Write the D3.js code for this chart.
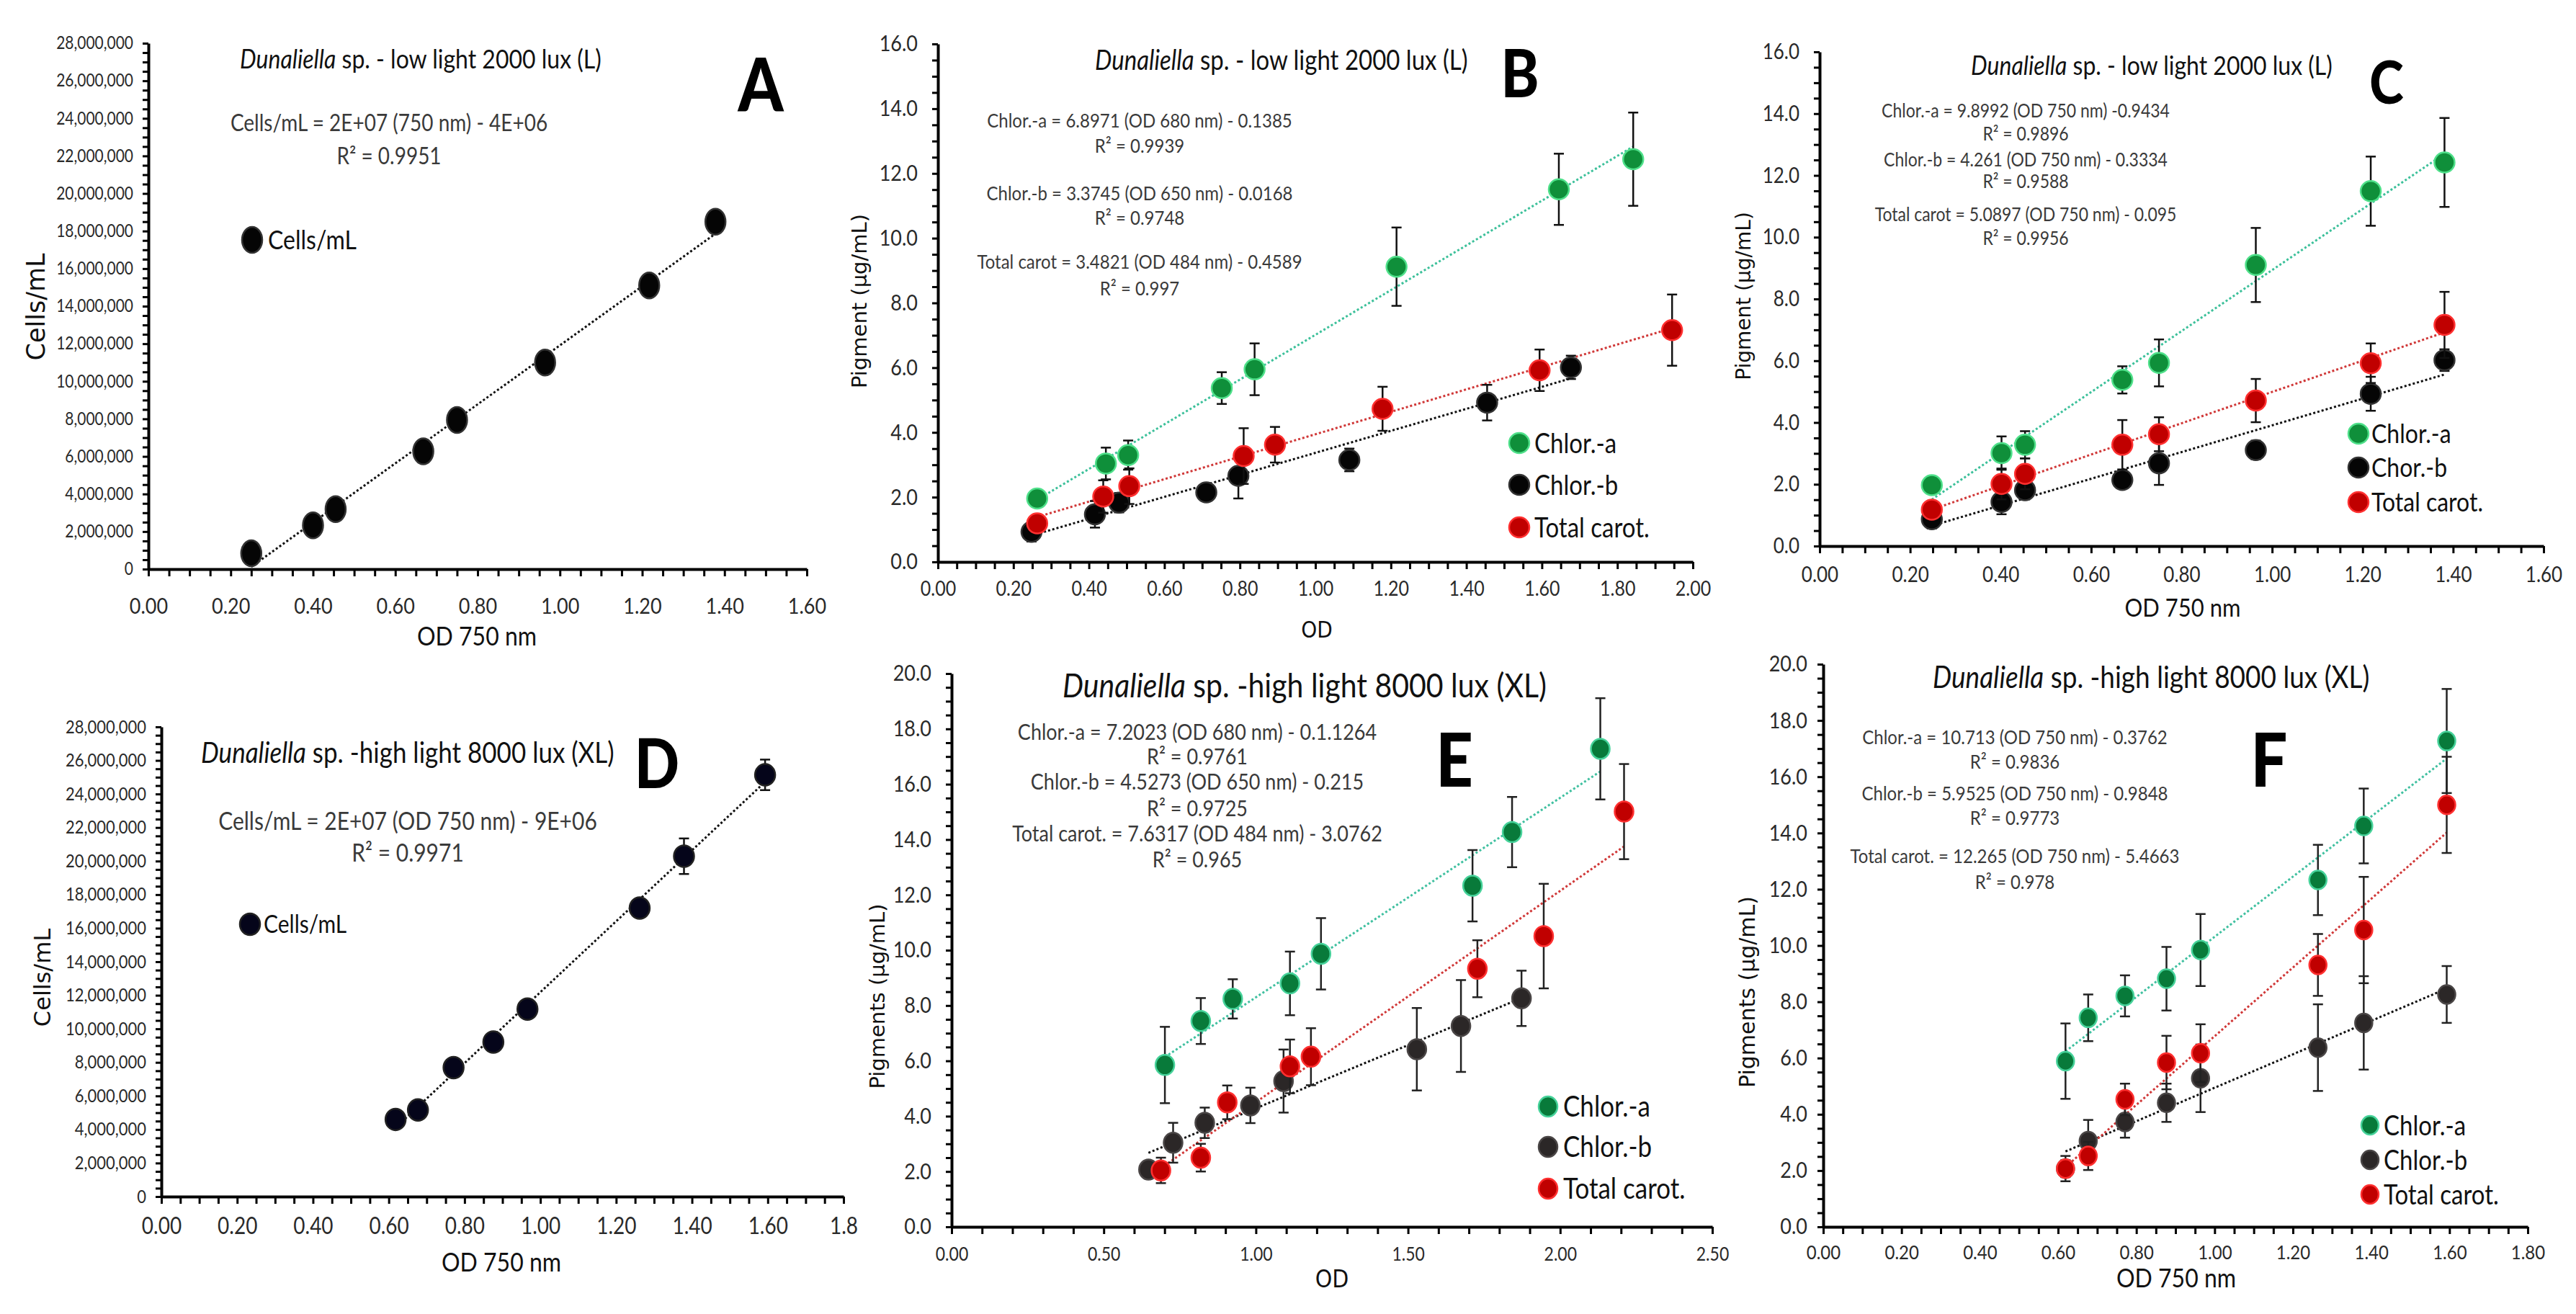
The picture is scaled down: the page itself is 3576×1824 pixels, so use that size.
<!DOCTYPE html>
<html>
<head>
<meta charset="utf-8">
<script src="https://cdn.jsdelivr.net/npm/d3@7"></script>
<style>
  body { margin: 0; background: #fff; }
</style>
</head>
<body>
<svg id="fig" width="3576" height="1824"></svg>
<script>
'use strict';

// ---------- data ----------

// A: cell counts, low light
var aOD = [0.25, 0.40, 0.455, 0.668, 0.75, 0.964, 1.217, 1.378];
var aCells = [840000, 2330000, 3190000, 6270000, 7940000, 11000000, 15100000, 18500000];

// B: pigments vs OD at their own wavelength, low light
var bChlaX = [0.263, 0.445, 0.504, 0.752, 0.839, 1.215, 1.645, 1.842];
var bChla = [1.96, 3.04, 3.30, 5.37, 5.95, 9.12, 11.51, 12.44];
var bChlaErr = [0.1, 0.49, 0.45, 0.49, 0.8, 1.21, 1.1, 1.44];
var bChlbX = [0.248, 0.416, 0.48, 0.711, 0.796, 1.09, 1.455, 1.677];
var bChlb = [0.93, 1.47, 1.83, 2.15, 2.66, 3.15, 4.92, 6.01];
var bChlbErr = [0.3, 0.41, 0.3, 0.15, 0.7, 0.35, 0.55, 0.36];
var bCarX = [0.263, 0.438, 0.507, 0.81, 0.893, 1.178, 1.594, 1.945];
var bCar = [1.19, 2.02, 2.34, 3.27, 3.62, 4.73, 5.92, 7.16];
var bCarErr = [0.15, 0.5, 0.55, 0.86, 0.55, 0.68, 0.64, 1.1];

// C: pigments vs OD 750, low light
var cOD = [0.248, 0.402, 0.454, 0.669, 0.75, 0.964, 1.218, 1.381];
var cChla = [1.97, 3.01, 3.28, 5.38, 5.93, 9.10, 11.49, 12.42];
var cChlaErr = [0.1, 0.54, 0.44, 0.44, 0.76, 1.2, 1.12, 1.44];
var cChlb = [0.87, 1.43, 1.81, 2.14, 2.68, 3.11, 4.93, 6.02];
var cChlbErr = [0.3, 0.4, 0.3, 0.15, 0.7, 0.3, 0.55, 0.35];
var cCar = [1.18, 2.01, 2.34, 3.28, 3.62, 4.71, 5.92, 7.16];
var cCarErr = [0.15, 0.5, 0.5, 0.8, 0.55, 0.7, 0.64, 1.07];

// D: cell counts, high light
var dOD = [0.618, 0.677, 0.771, 0.876, 0.966, 1.262, 1.379, 1.593];
var dCells = [4600000, 5160000, 7690000, 9210000, 11180000, 17200000, 20290000, 25140000];
var dCellsErr = [200000, 250000, 250000, 250000, 300000, 300000, 1060000, 910000];

// E: pigments vs OD at their own wavelength, high light
var eChlaX = [0.701, 0.819, 0.924, 1.112, 1.214, 1.712, 1.842, 2.132];
var eChla = [5.85, 7.44, 8.24, 8.80, 9.87, 12.33, 14.27, 17.28];
var eChlaErr = [1.38, 0.83, 0.71, 1.15, 1.29, 1.29, 1.27, 1.83];
var eChlbX = [0.647, 0.728, 0.832, 0.982, 1.091, 1.529, 1.674, 1.873];
var eChlb = [2.07, 3.04, 3.76, 4.39, 5.27, 6.42, 7.26, 8.26];
var eChlbErr = [0.3, 0.72, 0.55, 0.64, 1.14, 1.49, 1.66, 1.0];
var eCarX = [0.688, 0.819, 0.906, 1.112, 1.181, 1.728, 1.946, 2.21];
var eCar = [2.04, 2.50, 4.50, 5.80, 6.15, 9.33, 10.51, 15.01];
var eCarErr = [0.46, 0.5, 0.61, 0.97, 1.03, 1.03, 1.89, 1.72];

// F: pigments vs OD 750, high light
var fOD = [0.619, 0.677, 0.771, 0.877, 0.964, 1.264, 1.381, 1.593];
var fChla = [5.89, 7.43, 8.21, 8.82, 9.84, 12.33, 14.25, 17.27];
var fChlaErr = [1.34, 0.83, 0.73, 1.13, 1.28, 1.25, 1.33, 1.85];
var fChlb = [2.07, 3.05, 3.73, 4.41, 5.28, 6.37, 7.25, 8.26];
var fChlbErr = [0.3, 0.75, 0.56, 0.68, 1.2, 1.54, 1.66, 1.01];
var fCar = [2.07, 2.52, 4.53, 5.84, 6.17, 9.31, 10.55, 15.0];
var fCarErr = [0.45, 0.5, 0.56, 0.95, 1.03, 1.1, 1.89, 1.71];

// tick values and labels
var od16Ticks = [0, 0.2, 0.4, 0.6, 0.8, 1.0, 1.2, 1.4, 1.6];
var od16Labels = ['0.00', '0.20', '0.40', '0.60', '0.80', '1.00', '1.20', '1.40', '1.60'];
var od18Ticks = [0, 0.2, 0.4, 0.6, 0.8, 1.0, 1.2, 1.4, 1.6, 1.8];
var od18LabelsD = ['0.00', '0.20', '0.40', '0.60', '0.80', '1.00', '1.20', '1.40', '1.60', '1.8'];
var od18LabelsF = ['0.00', '0.20', '0.40', '0.60', '0.80', '1.00', '1.20', '1.40', '1.60', '1.80'];
var od20Ticks = [0, 0.2, 0.4, 0.6, 0.8, 1.0, 1.2, 1.4, 1.6, 1.8, 2.0];
var od20Labels = ['0.00', '0.20', '0.40', '0.60', '0.80', '1.00', '1.20', '1.40', '1.60', '1.80', '2.00'];
var od25Ticks = [0, 0.5, 1.0, 1.5, 2.0, 2.5];
var od25Labels = ['0.00', '0.50', '1.00', '1.50', '2.00', '2.50'];
var cellTicks = [0, 2e6, 4e6, 6e6, 8e6, 10e6, 12e6, 14e6, 16e6, 18e6, 20e6, 22e6, 24e6, 26e6, 28e6];
var cellLabels = ['0', '2,000,000', '4,000,000', '6,000,000', '8,000,000', '10,000,000', '12,000,000',
  '14,000,000', '16,000,000', '18,000,000', '20,000,000', '22,000,000', '24,000,000', '26,000,000', '28,000,000'];
var pig16Ticks = [0, 2, 4, 6, 8, 10, 12, 14, 16];
var pig16Labels = ['0.0', '2.0', '4.0', '6.0', '8.0', '10.0', '12.0', '14.0', '16.0'];
var pig20Ticks = [0, 2, 4, 6, 8, 10, 12, 14, 16, 18, 20];
var pig20Labels = ['0.0', '2.0', '4.0', '6.0', '8.0', '10.0', '12.0', '14.0', '16.0', '18.0', '20.0'];

// ---------- drawing ----------

var LATO = 'Lato, "Open Sans", sans-serif';
var DEJAVU = '"DejaVu Sans", Verdana, sans-serif';
var SY = 1.15; // the source figure is stretched a little vertically

var GREEN = { fill: '#0f8f3a', edge: '#4fe08a', line: '#3cc09a' };
var GREEN2 = { fill: '#087a3a', edge: '#46d29a', line: '#40c0a0' };
var RED = { fill: '#c00000', edge: '#ff3030', line: '#d03838' };
var BLACK = { fill: '#050505', edge: '#333', line: '#111' };
var BLACK2 = { fill: '#2b2727', edge: '#4a4646', line: '#111' };

var svg = d3.select('#fig');

function linFit(xs, ys) {
	var mx = d3.mean(xs), my = d3.mean(ys), sxy = 0, sxx = 0;
	xs.forEach(function(v, i) {
		sxy += (v - mx) * (ys[i] - my);
		sxx += (v - mx) * (v - mx);
	});
	var m = sxy / sxx;
	return { m: m, b: my - m * mx };
}

function allTicks(max, step) {
	return d3.range(Math.round(max / step) + 1).map(function(i) { return i * step; });
}

function labelFor(ticks, labels, tol) {
	return function(v) {
		for (var i = 0; i < ticks.length; i++) {
			if (Math.abs(ticks[i] - v) < tol) return labels[i];
		}
		return '';
	};
}

function addText(g, str, o) {
	var t = g.append('text')
		.attr('font-family', o.family || LATO)
		.attr('font-size', o.size)
		.attr('fill', o.fill || '#111')
		.attr('text-anchor', o.anchor || 'start')
		.attr('font-weight', o.weight || 'normal');
	if (o.rotate) {
		t.attr('transform', 'translate(' + o.x + ',' + o.y + ') rotate(-90)');
	} else {
		t.attr('transform', 'translate(' + o.x + ',' + o.y + ') scale(1,' + SY + ')');
	}
	t.text(str);
	return t;
}

function drawPanel(p) {
	var g = svg.append('g');
	var x = d3.scaleLinear().domain(p.xDomain).range([p.left, p.right]);
	var y = d3.scaleLinear().domain(p.yDomain).range([p.bottom, p.top]);

	var xa = g.append('g')
		.attr('transform', 'translate(0,' + p.bottom + ')')
		.call(d3.axisBottom(x)
			.tickValues(allTicks(p.xDomain[1], p.xMinor))
			.tickSize(10).tickSizeOuter(0).tickPadding(p.xPad)
			.tickFormat(labelFor(p.xTicks, p.xLabels, p.xDomain[1] * 1e-6)));
	xa.attr('font-family', LATO).attr('font-size', p.xFont);
	xa.selectAll('.tick text').each(function() {
		var t = d3.select(this), ty = +t.attr('y');
		t.attr('y', 0).attr('transform', 'translate(0,' + ty + ') scale(1,' + SY + ')');
	});

	var ya = g.append('g')
		.attr('transform', 'translate(' + p.left + ',0)')
		.call(d3.axisLeft(y)
			.tickValues(allTicks(p.yDomain[1], p.yMinor))
			.tickSize(8).tickSizeOuter(0).tickPadding(p.yPad)
			.tickFormat(labelFor(p.yTicks, p.yLabels, p.yDomain[1] * 1e-6)));
	ya.attr('font-family', LATO).attr('font-size', p.yFont);
	ya.selectAll('.tick text').attr('transform', 'scale(1,' + SY + ')');

	g.selectAll('.domain').attr('stroke', '#000').attr('stroke-width', 4);
	g.selectAll('.tick line').attr('stroke', '#000').attr('stroke-width', 3);
	g.selectAll('.tick text').attr('fill', '#2a2a2a');

	// dotted linear trendlines over each series' x range
	p.series.forEach(function(s) {
		var f = linFit(s.x, s.y), lo = d3.min(s.x), hi = d3.max(s.x);
		g.append('line')
			.attr('x1', x(lo)).attr('y1', y(f.b + f.m * lo))
			.attr('x2', x(hi)).attr('y2', y(f.b + f.m * hi))
			.attr('stroke', s.col.line)
			.attr('stroke-width', 3)
			.attr('stroke-dasharray', '3 3');
	});

	p.series.forEach(function(s) {
		if (s.err) {
			var pts = s.x.map(function(v, i) { return { x: v, y: s.y[i], e: s.err[i] }; });
			var eb = g.append('g').attr('stroke', p.errColor || '#111').attr('stroke-width', 2.5);
			eb.selectAll('line.v').data(pts).enter().append('line')
				.attr('x1', function(d) { return x(d.x); })
				.attr('x2', function(d) { return x(d.x); })
				.attr('y1', function(d) { return y(d.y - d.e); })
				.attr('y2', function(d) { return y(d.y + d.e); });
			[-1, 1].forEach(function(sign) {
				eb.selectAll('line.c' + sign).data(pts).enter().append('line')
					.attr('x1', function(d) { return x(d.x) - 7; })
					.attr('x2', function(d) { return x(d.x) + 7; })
					.attr('y1', function(d) { return y(d.y + sign * d.e); })
					.attr('y2', function(d) { return y(d.y + sign * d.e); });
			});
		}
		g.append('g').selectAll('ellipse')
			.data(s.x.map(function(v, i) { return [v, s.y[i]]; }))
			.enter().append('ellipse')
			.attr('cx', function(d) { return x(d[0]); })
			.attr('cy', function(d) { return y(d[1]); })
			.attr('rx', p.rx).attr('ry', p.ry)
			.attr('fill', s.col.fill)
			.attr('stroke', s.col.edge)
			.attr('stroke-width', 2.5);
	});

	// legend
	p.series.forEach(function(s, i) {
		var ly = p.legend.ys[i];
		g.append('ellipse')
			.attr('cx', p.legend.x).attr('cy', ly)
			.attr('rx', p.rx).attr('ry', p.ry)
			.attr('fill', s.col.fill).attr('stroke', s.col.edge).attr('stroke-width', 2.5);
		addText(g, s.name, { x: p.legend.tx, y: ly + p.legend.size * 0.36 * SY, size: p.legend.size });
	});

	// title with italic genus
	var tt = g.append('text')
		.attr('transform', 'translate(' + p.title.x + ',' + p.title.y + ') scale(1,' + SY + ')')
		.attr('font-family', LATO).attr('font-size', p.title.size).attr('fill', '#111');
	tt.append('tspan').attr('font-style', 'italic').text('Dunaliella');
	tt.append('tspan').text(p.title.text);

	addText(g, p.letter.t, { x: p.letter.x, y: p.letter.y, size: p.letter.size, weight: 900, anchor: 'middle', fill: '#000' });

	p.eqs.forEach(function(line, i) {
		addText(g, line, { x: p.eq.x, y: p.eq.ys[i], size: p.eq.size, anchor: 'middle', fill: '#3a3a3a' });
	});

	addText(g, p.xTitle.t, { x: p.xTitle.x, y: p.xTitle.y, size: p.xTitle.size, anchor: 'middle', family: p.xTitle.family });
	addText(g, p.yTitle.t, { x: p.yTitle.x, y: p.yTitle.y, size: p.yTitle.size, anchor: 'middle', family: DEJAVU, rotate: true });
}

drawPanel({
	left: 206, right: 1120, top: 60, bottom: 790,
	xDomain: [0, 1.6], yDomain: [0, 28e6], xMinor: 0.05, yMinor: 5e5,
	xTicks: od16Ticks, xLabels: od16Labels, yTicks: cellTicks, yLabels: cellLabels,
	xFont: 27, yFont: 21, xPad: 30, yPad: 13, rx: 14, ry: 18,
	series: [{ name: 'Cells/mL', x: aOD, y: aCells, col: BLACK }],
	legend: { x: 350, tx: 372, ys: [333], size: 32 },
	title: { x: 333, y: 95, size: 32, text: ' sp. - low light 2000 lux (L)' },
	letter: { t: 'A', x: 1056, y: 155, size: 90 },
	eq: { x: 540, ys: [182, 228], size: 28 },
	eqs: ['Cells/mL = 2E+07 (750 nm) - 4E+06', 'R\u00b2 = 0.9951'],
	xTitle: { t: 'OD 750 nm', x: 662, y: 896, size: 32 },
	yTitle: { t: 'Cells/mL', x: 62, y: 426, size: 35 }
});

drawPanel({
	left: 1302, right: 2350, top: 61, bottom: 780,
	xDomain: [0, 2.0], yDomain: [0, 16], xMinor: 0.05, yMinor: 0.5,
	xTicks: od20Ticks, xLabels: od20Labels, yTicks: pig16Ticks, yLabels: pig16Labels,
	xFont: 25, yFont: 27, xPad: 17, yPad: 20, rx: 14, ry: 14,
	series: [
		{ name: 'Chlor.-a', x: bChlaX, y: bChla, err: bChlaErr, col: GREEN },
		{ name: 'Chlor.-b', x: bChlbX, y: bChlb, err: bChlbErr, col: BLACK },
		{ name: 'Total carot.', x: bCarX, y: bCar, err: bCarErr, col: RED }
	],
	legend: { x: 2109, tx: 2130, ys: [615, 673, 732], size: 33 },
	title: { x: 1520, y: 97, size: 33, text: ' sp. - low light 2000 lux (L)' },
	letter: { t: 'B', x: 2110, y: 135, size: 80 },
	eq: { x: 1582, ys: [177, 212, 278, 312, 373, 410], size: 24 },
	eqs: ['Chlor.-a = 6.8971 (OD 680 nm) - 0.1385', 'R\u00b2 = 0.9939',
		'Chlor.-b = 3.3745 (OD 650 nm) - 0.0168', 'R\u00b2 = 0.9748',
		'Total carot = 3.4821 (OD 484 nm) - 0.4589', 'R\u00b2 = 0.997'],
	xTitle: { t: 'OD', x: 1828, y: 885, size: 28, family: DEJAVU },
	yTitle: { t: 'Pigment (\u00b5g/mL)', x: 1203, y: 418, size: 29 }
});

drawPanel({
	left: 2526, right: 3531, top: 72, bottom: 758,
	xDomain: [0, 1.6], yDomain: [0, 16], xMinor: 0.05, yMinor: 0.5,
	xTicks: od16Ticks, xLabels: od16Labels, yTicks: pig16Ticks, yLabels: pig16Labels,
	xFont: 26, yFont: 26, xPad: 19, yPad: 20, rx: 14, ry: 14,
	series: [
		{ name: 'Chlor.-a', x: cOD, y: cChla, err: cChlaErr, col: GREEN },
		{ name: 'Chor.-b', x: cOD, y: cChlb, err: cChlbErr, col: BLACK },
		{ name: 'Total carot.', x: cOD, y: cCar, err: cCarErr, col: RED }
	],
	legend: { x: 3274, tx: 3292, ys: [602, 649, 697], size: 32 },
	title: { x: 2736, y: 104, size: 32, text: ' sp. - low light 2000 lux (L)' },
	letter: { t: 'C', x: 3313, y: 144, size: 72 },
	eq: { x: 2812, ys: [163, 195, 231, 261, 307, 340], size: 23 },
	eqs: ['Chlor.-a = 9.8992 (OD 750 nm) -0.9434', 'R\u00b2 = 0.9896',
		'Chlor.-b = 4.261 (OD 750 nm) - 0.3334', 'R\u00b2 = 0.9588',
		'Total carot = 5.0897 (OD 750 nm) - 0.095', 'R\u00b2 = 0.9956'],
	xTitle: { t: 'OD 750 nm', x: 3030, y: 856, size: 31 },
	yTitle: { t: 'Pigment (\u00b5g/mL)', x: 2430, y: 411, size: 28 }
});

drawPanel({
	left: 224, right: 1171, top: 1009, bottom: 1661,
	xDomain: [0, 1.8], yDomain: [0, 28e6], xMinor: 0.05, yMinor: 5e5,
	xTicks: od18Ticks, xLabels: od18LabelsD, yTicks: cellTicks, yLabels: cellLabels,
	xFont: 28, yFont: 22, xPad: 19, yPad: 13, rx: 14, ry: 15,
	series: [{ name: 'Cells/mL', x: dOD, y: dCells, err: dCellsErr, col: { fill: '#05051a', edge: '#222', line: '#111' } }],
	legend: { x: 347, tx: 366, ys: [1283], size: 30 },
	title: { x: 279, y: 1059, size: 35, text: ' sp. -high light 8000 lux (XL)' },
	letter: { t: 'D', x: 912, y: 1094, size: 82 },
	eq: { x: 566, ys: [1152, 1196], size: 30 },
	eqs: ['Cells/mL = 2E+07 (OD 750 nm) - 9E+06', 'R\u00b2 = 0.9971'],
	xTitle: { t: 'OD 750 nm', x: 696, y: 1765, size: 32 },
	yTitle: { t: 'Cells/mL', x: 70, y: 1357, size: 32 }
});

drawPanel({
	left: 1321, right: 2377, top: 935, bottom: 1703,
	xDomain: [0, 2.5], yDomain: [0, 20], xMinor: 0.1, yMinor: 0.5,
	xTicks: od25Ticks, xLabels: od25Labels, yTicks: pig20Ticks, yLabels: pig20Labels,
	xFont: 23, yFont: 27, xPad: 18, yPad: 20, rx: 13, ry: 14, errColor: '#222',
	series: [
		{ name: 'Chlor.-a', x: eChlaX, y: eChla, err: eChlaErr, col: GREEN2 },
		{ name: 'Chlor.-b', x: eChlbX, y: eChlb, err: eChlbErr, col: BLACK2 },
		{ name: 'Total carot.', x: eCarX, y: eCar, err: eCarErr, col: RED }
	],
	legend: { x: 2149, tx: 2170, ys: [1536, 1592, 1650], size: 35 },
	title: { x: 1475, y: 968, size: 41, text: ' sp. -high light 8000 lux (XL)' },
	letter: { t: 'E', x: 2019, y: 1092, size: 90 },
	eq: { x: 1662, ys: [1027, 1061, 1096, 1133, 1168, 1204], size: 27 },
	eqs: ['Chlor.-a = 7.2023 (OD 680 nm) - 0.1.1264', 'R\u00b2 = 0.9761',
		'Chlor.-b = 4.5273 (OD 650 nm) - 0.215', 'R\u00b2 = 0.9725',
		'Total carot. = 7.6317 (OD 484 nm) - 3.0762', 'R\u00b2 = 0.965'],
	xTitle: { t: 'OD', x: 1849, y: 1787, size: 30, family: DEJAVU },
	yTitle: { t: 'Pigments (\u00b5g/mL)', x: 1228, y: 1383, size: 29 }
});

drawPanel({
	left: 2531, right: 3509, top: 922, bottom: 1703,
	xDomain: [0, 1.8], yDomain: [0, 20], xMinor: 0.05, yMinor: 0.5,
	xTicks: od18Ticks, xLabels: od18LabelsF, yTicks: pig20Ticks, yLabels: pig20Labels,
	xFont: 24, yFont: 27, xPad: 15, yPad: 14, rx: 12, ry: 13, errColor: '#222',
	series: [
		{ name: 'Chlor.-a', x: fOD, y: fChla, err: fChlaErr, col: GREEN2 },
		{ name: 'Chlor.-b', x: fOD, y: fChlb, err: fChlbErr, col: BLACK2 },
		{ name: 'Total carot.', x: fOD, y: fCar, err: fCarErr, col: RED }
	],
	legend: { x: 3290, tx: 3309, ys: [1562, 1610, 1658], size: 33 },
	title: { x: 2683, y: 955, size: 37, text: ' sp. -high light 8000 lux (XL)' },
	letter: { t: 'F', x: 3150, y: 1092, size: 90 },
	eq: { x: 2797, ys: [1033, 1067, 1111, 1145, 1198, 1234], size: 24 },
	eqs: ['Chlor.-a = 10.713 (OD 750 nm) - 0.3762', 'R\u00b2 = 0.9836',
		'Chlor.-b = 5.9525 (OD 750 nm) - 0.9848', 'R\u00b2 = 0.9773',
		'Total carot. = 12.265 (OD 750 nm) - 5.4663', 'R\u00b2 = 0.978'],
	xTitle: { t: 'OD 750 nm', x: 3021, y: 1787, size: 32 },
	yTitle: { t: 'Pigments (\u00b5g/mL)', x: 2436, y: 1377, size: 30 }
});
</script>
</body>
</html>
